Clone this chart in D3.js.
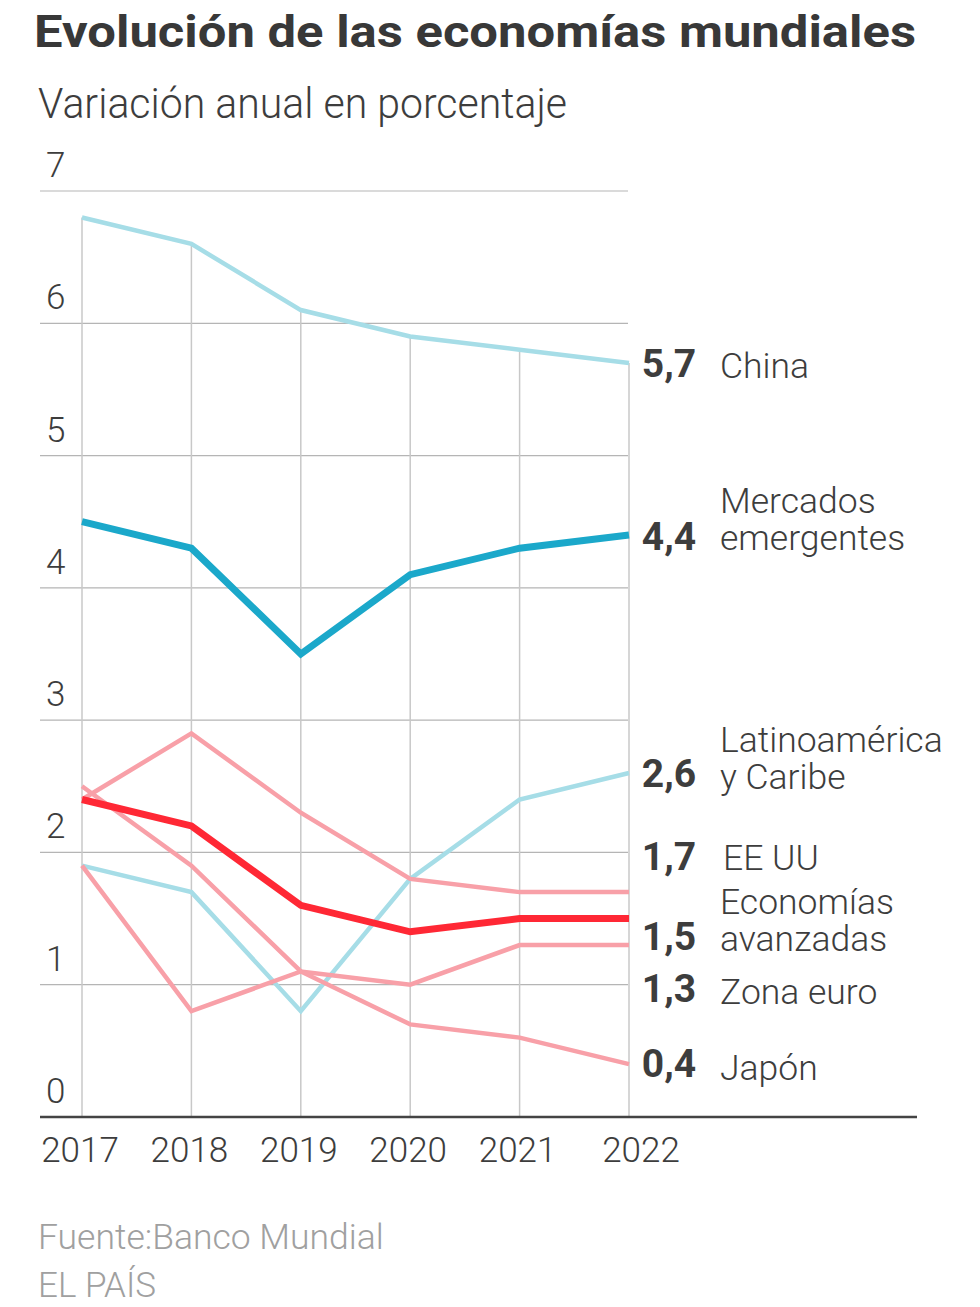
<!DOCTYPE html>
<html>
<head>
<meta charset="utf-8">
<script src="https://cdn.jsdelivr.net/npm/d3@7"></script>
<style>
  html, body { margin: 0; padding: 0; background: #fff; }
  svg { display: block; }
  text { font-family: Roboto, "Noto Sans", sans-serif; }
</style>
</head>
<body>
<script>
// ---- data ----
const years = [2017, 2018, 2019, 2020, 2021, 2022];
const yTicks = [0, 1, 2, 3, 4, 5, 6, 7];
const seriesNames = ["China", "Mercados emergentes", "Latinoamérica y Caribe", "EE UU", "Economías avanzadas", "Zona euro", "Japón"];
const china = [6.8, 6.6, 6.1, 5.9, 5.8, 5.7];
const emergentes = [4.5, 4.3, 3.5, 4.1, 4.3, 4.4];
const latam = [1.9, 1.7, 0.8, 1.8, 2.4, 2.6];
const eeuu = [2.4, 2.9, 2.3, 1.8, 1.7, 1.7];
const avanzadas = [2.4, 2.2, 1.6, 1.4, 1.5, 1.5];
const zonaEuro = [1.9, 0.8, 1.1, 1.0, 1.3, 1.3];
const japon = [2.5, 1.9, 1.1, 0.7, 0.6, 0.4];
const labelLines = [["China"], ["Mercados", "emergentes"], ["Latinoamérica", "y Caribe"], ["EE UU"], ["Economías", "avanzadas"], ["Zona euro"], ["Japón"]];

// ---- styles / layout ----
const W = 980, H = 1307;
const colLight = "#a6dde7", colBlue = "#1ba8ca", colPink = "#f8a0a8", colRed = "#ff2835";
const textCol = "#3d3d3d";
const series = [
  { name: seriesNames[2], values: latam, color: colLight, width: 4.5 },
  { name: seriesNames[0], values: china, color: colLight, width: 4.5 },
  { name: seriesNames[3], values: eeuu, color: colPink, width: 4.5 },
  { name: seriesNames[5], values: zonaEuro, color: colPink, width: 4.5 },
  { name: seriesNames[6], values: japon, color: colPink, width: 4.5 },
  { name: seriesNames[4], values: avanzadas, color: colRed, width: 7 },
  { name: seriesNames[1], values: emergentes, color: colBlue, width: 7 }
];
// label layout: baseline of value label (px) and name line baselines
const labelLayout = {
  "China": { vy: 377, ny: [378] },
  "Mercados emergentes": { vy: 550, ny: [513, 550] },
  "Latinoamérica y Caribe": { vy: 787, ny: [752, 789] },
  "EE UU": { vy: 870, ny: [870] },
  "Economías avanzadas": { vy: 950, ny: [914, 951] },
  "Zona euro": { vy: 1002, ny: [1004] },
  "Japón": { vy: 1077, ny: [1080] }
};
const fmt = v => d3.format(".1f")(v).replace(".", ",");

const svg = d3.select("body").append("svg").attr("width", W).attr("height", H);

const x = d3.scalePoint().domain(years).range([82, 629]);
const y = d3.scaleLinear().domain([0, 7]).range([1117, 191]);

// title & subtitle
svg.append("text").attr("x", 34).attr("y", 47)
  .attr("font-size", 45).attr("font-weight", 700).attr("fill", "#383838")
  .attr("textLength", 882).attr("lengthAdjust", "spacingAndGlyphs")
  .text("Evolución de las economías mundiales");
svg.append("text").attr("x", 38).attr("y", 118)
  .attr("font-size", 42).attr("font-weight", 300).attr("fill", textCol)
  .attr("textLength", 529).attr("lengthAdjust", "spacingAndGlyphs")
  .text("Variación anual en porcentaje");

// horizontal gridlines
svg.append("g").selectAll("line").data(yTicks.filter(d => d > 0)).join("line")
  .attr("x1", 40).attr("x2", 628)
  .attr("y1", d => y(d)).attr("y2", d => y(d))
  .attr("stroke", "#b5b5b5").attr("stroke-width", 1.2);

// y tick labels
svg.append("g").selectAll("text").data(yTicks).join("text")
  .attr("x", 46).attr("y", d => y(d) - 14)
  .attr("font-size", 35).attr("font-weight", 300).attr("fill", textCol)
  .text(d => d);

// vertical drop lines from top series to axis
svg.append("g").selectAll("line").data(years).join("line")
  .attr("x1", d => x(d)).attr("x2", d => x(d))
  .attr("y1", (d, i) => y(china[i])).attr("y2", y(0))
  .attr("stroke", "#c8c8c8").attr("stroke-width", 1.5);

// lines
const line = d3.line().x((d, i) => x(years[i])).y(d => y(d));
svg.append("g").selectAll("path").data(series).join("path")
  .attr("d", d => line(d.values))
  .attr("fill", "none")
  .attr("stroke", d => d.color)
  .attr("stroke-width", d => d.width)
  .attr("stroke-linejoin", "miter");

// x axis baseline
svg.append("line").attr("x1", 40).attr("x2", 917).attr("y1", y(0)).attr("y2", y(0))
  .attr("stroke", "#444").attr("stroke-width", 2.5);

// x labels
svg.append("g").selectAll("text").data(years).join("text")
  .attr("x", (d, i) => x(d) + (i === years.length - 1 ? 12 : -2))
  .attr("y", 1162)
  .attr("text-anchor", "middle")
  .attr("font-size", 35).attr("font-weight", 300).attr("fill", textCol)
  .text(d => d);

// end labels
const lab = svg.append("g");
series.forEach(s => {
  const L = labelLayout[s.name];
  const last = s.values[s.values.length - 1];
  lab.append("text").attr("x", 669).attr("y", L.vy)
    .attr("text-anchor", "middle")
    .attr("font-size", 39).attr("font-weight", 700).attr("fill", textCol)
    .text(fmt(last));
  const lines = labelLines[seriesNames.indexOf(s.name)];
  const tx = s.name === "EE UU" ? 723 : 720;
  const t = lab.append("text").attr("x", tx).attr("y", L.ny[0])
    .attr("font-size", 35.5).attr("font-weight", 300).attr("fill", textCol);
  lines.forEach((str, k) => {
    t.append("tspan").attr("x", tx).attr("y", L.ny[k]).text(str);
  });
});

// footer
svg.append("text").attr("x", 38).attr("y", 1249)
  .attr("font-size", 35.5).attr("font-weight", 300).attr("fill", "#a0a0a0")
  .text("Fuente:Banco Mundial");
svg.append("text").attr("x", 38).attr("y", 1297)
  .attr("font-size", 35).attr("font-weight", 300).attr("fill", "#a0a0a0")
  .text("EL PAÍS");
</script>
</body>
</html>
